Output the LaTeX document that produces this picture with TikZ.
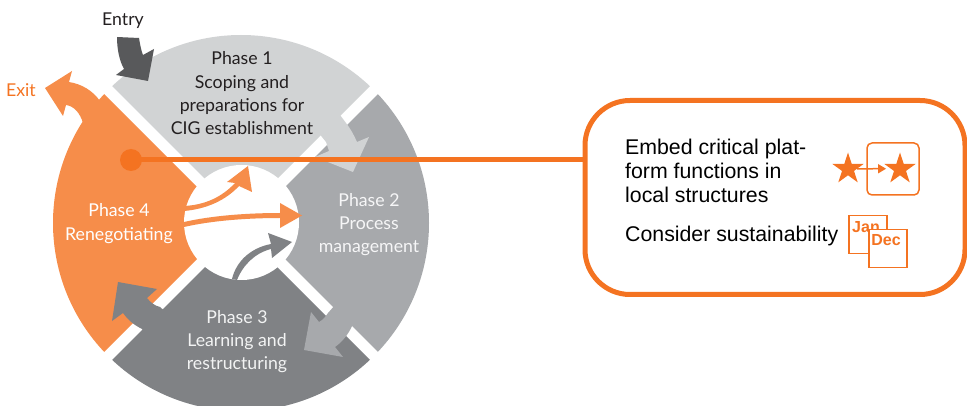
\documentclass[tikz,border=0pt]{standalone}
\usepackage{fontspec}
\setmainfont{Liberation Sans}
\newfontfamily\phasefont{Lato}
\usetikzlibrary{shapes.geometric}
\definecolor{pone}{HTML}{D1D3D4}
\definecolor{ptwo}{HTML}{A7A9AC}
\definecolor{pthree}{HTML}{808285}
\definecolor{pfour}{HTML}{F68D4A}
\definecolor{accent}{HTML}{F47321}
\definecolor{entrygrey}{HTML}{58595B}
\definecolor{ink}{HTML}{231F20}
\tikzset{
  phaselabel/.style={font=\phasefont\fontsize{17.7}{23.3}\selectfont,align=center,inner sep=0pt},
  bodytext/.style={font=\fontsize{21.3}{24}\selectfont,align=left,anchor=west,inner sep=0pt},
  calsheet/.style={draw=accent,line width=1.5pt,minimum width=38pt,minimum height=38pt,inner sep=0pt},
  calword/.style={font=\bfseries\fontsize{16}{16}\selectfont,text=accent,inner sep=0pt},
  starmark/.style={star,star points=5,star point ratio=2.618,fill=accent,draw=none,minimum size=33pt,inner sep=0pt},
}
\newcommand{\sector}[4]{%
  \begin{scope}
    \clip (241,223) ++(#2) -- ++(#3) -- ++(#4) -- cycle;
    \fill[#1] (241,223) circle (188pt);
  \end{scope}}
\begin{document}
\begin{tikzpicture}[x=1pt,y=-1pt]
\useasboundingbox (0,0) rectangle (967,406);
\clip (0,0) rectangle (967,406);
% sectors
\sector{pone}{0,-8}{-300,-300}{600,0}
\sector{ptwo}{8,0}{300,-300}{0,600}
\sector{pthree}{0,8}{300,300}{-600,0}
\sector{pfour}{-8,0}{-300,300}{0,-600}
% hub
\fill[white] (241.5,222.5) circle (57.5pt);
% sector arrows
\fill[entrygrey] (117,37) -- (139,38) .. controls (140,44) and (141,50) .. (143,55)
  -- (154,49) -- (148,81) -- (116,75) -- (124,69) .. controls (119,60) and (117,48) .. (117,37) -- cycle;
\fill[pfour] (45,88) -- (72,71) -- (69,82) .. controls (82,84) and (93,91) .. (100,101)
  -- (110,110) -- (90,135) -- (83,123) .. controls (80,113) and (74,106) .. (66,105)
  -- (63,116) -- cycle;
\fill[pone] (340,115) -- (346,123) .. controls (350,128) and (354,135) .. (357,142)
  -- (369,137) -- (353,172) -- (315,157) -- (329,151) .. controls (328,148) and (327,145) .. (326,142)
  -- (318,132) -- cycle;
\fill[ptwo] (360,320) -- (352,326) .. controls (348,335) and (342,342) .. (335,347)
  -- (343,357) -- (304,350) -- (311,312) -- (319,322) .. controls (323,320) and (326,316) .. (328,313)
  -- (335,305) -- cycle;
\fill[pthree] (118,282) -- (157,289) -- (147,298) .. controls (150,302) and (155,306) .. (160,307)
  -- (175,320) -- (150,340) -- (142,329) .. controls (134,325) and (128,320) .. (123,313)
  -- (112,321) -- cycle;
% hub arrows
\fill[pfour] (184,206) .. controls (205,205) and (222,197) .. (235,183) -- (227,182) -- (248,166) -- (252,192)
  -- (239,186) .. controls (226,200) and (207,209) .. (184,211) -- cycle;
\fill[pfour] (184,222) .. controls (210,216) and (245,213) .. (280,213) -- (280,203) -- (302,215.5) -- (280,228)
  -- (280,218) .. controls (245,218) and (210,221) .. (184,227) -- cycle;
\fill[pthree] (232,279) .. controls (236,262) and (250,248) .. (271,244) -- (268,233) -- (292,242) -- (272,258)
  -- (271,249) .. controls (255,253) and (243,265) .. (237,280) -- cycle;
% connector and callout
\node[draw=accent,line width=5pt,rounded corners=45pt,minimum width=380pt,minimum height=194pt,inner sep=0pt] (callout) at (775,197.5) {};
\node[circle,fill=accent,minimum size=22pt,inner sep=0pt] (dot) at (131,160) {};
\draw[accent,line width=5pt] (dot.center) -- (dot.center -| callout.west);
% phase labels
\node[phaselabel,text=ink] (ph1) at (242,93.5) {Phase 1\\Scoping and\\preparations for\\CIG establishment};
\node[phaselabel,text=white!90!ptwo] (ph2) at (369,224.5) {Phase 2\\Process\\management};
\node[phaselabel,text=white!90!pthree] (ph3) at (237,341.5) {Phase 3\\Learning and\\restructuring};
\node[phaselabel,text=white] (ph4) at (119,223.5) {Phase 4\\Renegotiating};
\node[phaselabel,text=ink] (entry) at (123,21) {Entry};
\node[phaselabel,text=accent] (exit) at (21,90) {Exit};
% callout text
\node[bodytext] (embed) at (625,170.5) {Embed critical plat-\\form functions in\\local structures};
\node[bodytext] (sust) at (625,235.5) {Consider sustainability};
% star icon
\draw[accent,line width=1.5pt,rounded corners=5pt,fill=white] (867,143) rectangle (919,195);
\node[starmark] (s1) at (848,169) {};
\node[starmark] (s2) at (900,169) {};
\draw[accent,line width=1.5pt] (s1) -- (878,168.7);
\fill[accent] (886,168.7) -- (878,164) -- (878,173.5) -- cycle;
% calendar icon
\node[calsheet,anchor=north west] (jan) at (848,215) {};
\node[calword] (janw) at (866,227) {Jan};
\node[calsheet,anchor=north west,fill=white] (dec) at (868,229) {};
\node[calword] (decw) at (886,240) {Dec};
\end{tikzpicture}
\end{document}
